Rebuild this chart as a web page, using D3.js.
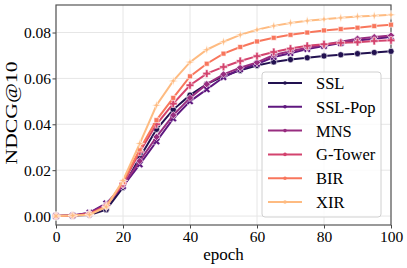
<!DOCTYPE html>
<html>
<head>
<meta charset="utf-8">
<script src="https://cdn.jsdelivr.net/npm/d3@7"></script>
<style>
  html, body { margin: 0; padding: 0; background: #fff; }
  svg text { font-family: "Liberation Serif", "Times New Roman", serif; fill: #000; }
</style>
</head>
<body>
<svg id="chart" width="407" height="268"></svg>
<script>
// epochs sampled every 5
const epochs = [0, 5, 10, 15, 20, 25, 30, 35, 40, 45, 50, 55, 60, 65, 70, 75, 80, 85, 90, 95, 100];

const seriesNames = ["SSL", "SSL-Pop", "MNS", "G-Tower", "BIR", "XIR"];

const ssl    = [0, 0.0002, 0.0005, 0.0028, 0.0125, 0.0255, 0.0378, 0.0464, 0.0527, 0.0575, 0.0610, 0.0635, 0.0656, 0.0672, 0.0682, 0.0690, 0.0698, 0.0703, 0.0708, 0.0713, 0.0718];
const sslPop = [0, 0.0002, 0.0015, 0.0055, 0.0130, 0.0225, 0.0325, 0.0425, 0.0500, 0.0552, 0.0605, 0.0640, 0.0663, 0.0693, 0.0710, 0.0728, 0.0741, 0.0754, 0.0765, 0.0773, 0.0780];
const mns    = [0, 0.0002, 0.0013, 0.0050, 0.0135, 0.0240, 0.0345, 0.0440, 0.0515, 0.0575, 0.0618, 0.0647, 0.0670, 0.0702, 0.0718, 0.0734, 0.0747, 0.0760, 0.0773, 0.0780, 0.0787];
const gTower = [0, 0.0002, 0.0008, 0.0045, 0.0142, 0.0280, 0.0400, 0.0490, 0.0570, 0.0621, 0.0650, 0.0676, 0.0697, 0.0715, 0.0730, 0.0742, 0.0749, 0.0755, 0.0758, 0.0763, 0.0766];
const bir    = [0, 0.0002, 0.0008, 0.0042, 0.0148, 0.0290, 0.0418, 0.0515, 0.0609, 0.0664, 0.0708, 0.0737, 0.0761, 0.0777, 0.0790, 0.0800, 0.0809, 0.0815, 0.0821, 0.0828, 0.0834];
const xir    = [0, 0.0002, 0.0006, 0.0040, 0.0155, 0.0316, 0.0483, 0.0589, 0.0671, 0.0725, 0.0760, 0.0790, 0.0812, 0.0829, 0.0842, 0.0851, 0.0858, 0.0864, 0.0870, 0.0873, 0.0877];

const seriesValues = [ssl, sslPop, mns, gTower, bir, xir];

const xTicks = [0, 20, 40, 60, 80, 100];
const yTicks = [0, 0.02, 0.04, 0.06, 0.08];

// magma(6) palette
const colors = ["#221150", "#5f187f", "#982d80", "#d3436e", "#f8765c", "#febb81"];

const svg = d3.select("#chart");
const margin = { left: 56, right: 16, top: 5, bottom: 43 };
const W = 407, H = 268;

const x = d3.scaleLinear().domain([0, 100]).range([margin.left, W - margin.right]);
const y = d3.scaleLinear().domain([-0.0039, 0.092]).range([H - margin.bottom, margin.top]);

// grid
svg.append("g").selectAll("line").data(xTicks).enter().append("line")
  .attr("x1", d => x(d)).attr("x2", d => x(d))
  .attr("y1", y.range()[0]).attr("y2", y.range()[1])
  .attr("stroke", "#e6e6e6").attr("stroke-width", 1);
svg.append("g").selectAll("line").data(yTicks).enter().append("line")
  .attr("y1", d => y(d)).attr("y2", d => y(d))
  .attr("x1", x.range()[0]).attr("x2", x.range()[1])
  .attr("stroke", "#e6e6e6").attr("stroke-width", 1);

// axes
const xAxis = svg.append("g")
  .attr("transform", `translate(0,${H - margin.bottom})`)
  .call(d3.axisBottom(x).tickValues(xTicks).tickSize(3.5).tickPadding(2.5).tickFormat(d3.format("d")));
const yAxis = svg.append("g")
  .attr("transform", `translate(${margin.left},0)`)
  .call(d3.axisLeft(y).tickValues(yTicks).tickSize(3.5).tickPadding(1.5).tickFormat(d3.format(".2f")));

[xAxis, yAxis].forEach(g => {
  g.select(".domain").remove();
  g.selectAll(".tick line").attr("stroke", "#444").attr("stroke-width", 1);
  g.selectAll(".tick text").style("font-size", "15.5px").attr("fill", "#000");
});

// frame
svg.append("rect")
  .attr("x", x.range()[0]).attr("y", y.range()[1])
  .attr("width", x.range()[1] - x.range()[0]).attr("height", y.range()[0] - y.range()[1])
  .attr("fill", "none").attr("stroke", "#555").attr("stroke-width", 1.2);

// marker shapes (seaborn default order)
const star4 = {
  draw(ctx, size) {
    const r = Math.sqrt(size) * 0.75, w = r * 0.22;
    ctx.moveTo(0, -r); ctx.lineTo(w, -w); ctx.lineTo(r, 0); ctx.lineTo(w, w);
    ctx.lineTo(0, r); ctx.lineTo(-w, w); ctx.lineTo(-r, 0); ctx.lineTo(-w, -w);
    ctx.closePath();
  }
};
const markers = [
  { type: d3.symbolCircle, size: 30, rot: 0 },
  { type: d3.symbolCross, size: 34, rot: 45 },
  { type: d3.symbolSquare, size: 26, rot: 45 },
  { type: d3.symbolCross, size: 34, rot: 0 },
  { type: d3.symbolSquare, size: 24, rot: 0 },
  { type: star4, size: 40, rot: 0 }
];

const line = d3.line().x((d, i) => x(epochs[i])).y(d => y(d));

const plot = svg.append("g");
seriesValues.forEach((vals, k) => {
  const g = plot.append("g");
  g.append("path").datum(vals)
    .attr("d", line)
    .attr("fill", "none")
    .attr("stroke", colors[k])
    .attr("stroke-width", 2);
  const m = markers[k];
  g.selectAll("path.mk").data(vals).enter().append("path")
    .attr("class", "mk")
    .attr("d", d3.symbol().type(m.type).size(m.size))
    .attr("transform", (d, i) => `translate(${x(epochs[i])},${y(d)}) rotate(${m.rot})`)
    .attr("fill", colors[k])
    .attr("stroke", "#fff")
    .attr("stroke-width", 0.6);
});

// axis labels
svg.append("text")
  .attr("x", (x.range()[0] + x.range()[1]) / 2).attr("y", 260)
  .attr("text-anchor", "middle").style("font-size", "17px").text("epoch");
svg.append("text")
  .attr("transform", `translate(17,${(y.range()[0] + y.range()[1]) / 2 - 2}) rotate(-90)`)
  .attr("text-anchor", "middle").style("font-size", "17px")
  .attr("textLength", 103).attr("lengthAdjust", "spacingAndGlyphs")
  .text("NDCG@10");

// legend
const lg = svg.append("g");
lg.append("rect")
  .attr("x", 262).attr("y", 72).attr("width", 119).attr("height", 145)
  .attr("rx", 3).attr("fill", "#fff").attr("fill-opacity", 0.8)
  .attr("stroke", "#d0d0d0").attr("stroke-width", 1);
seriesNames.forEach((name, k) => {
  const cy = 83 + k * 23.8;
  lg.append("line").attr("x1", 268).attr("x2", 302).attr("y1", cy).attr("y2", cy)
    .attr("stroke", colors[k]).attr("stroke-width", 2);
  lg.append("circle").attr("cx", 285).attr("cy", cy).attr("r", 1.8).attr("fill", colors[k]);
  lg.append("text").attr("x", 316).attr("y", cy + 6)
    .style("font-size", "16.5px").text(name);
});
</script>
</body>
</html>
